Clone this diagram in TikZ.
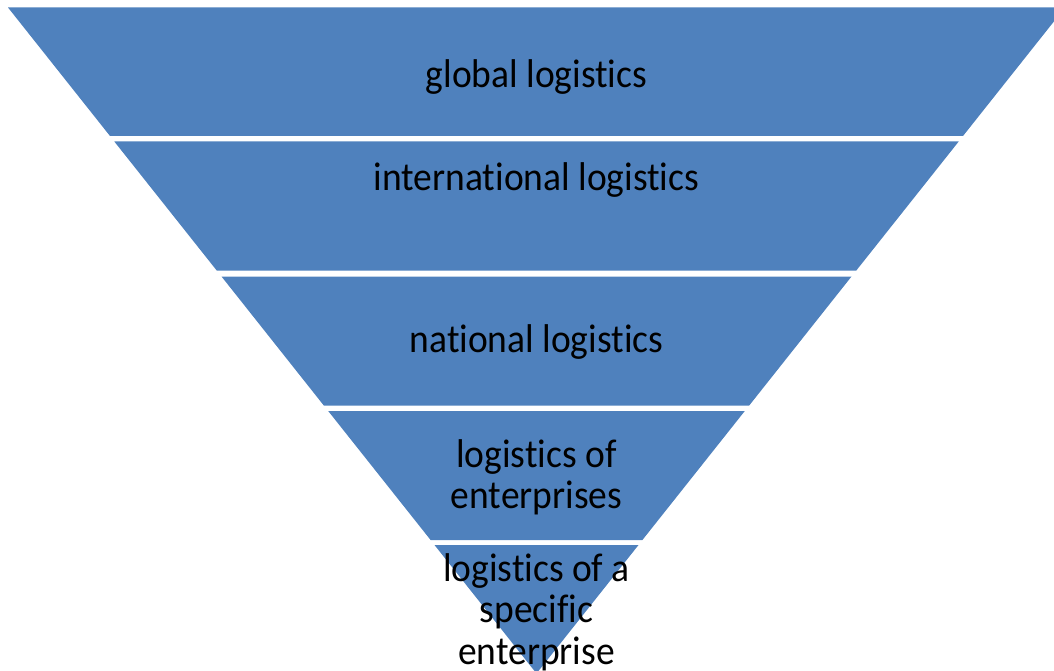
\documentclass[tikz,border=0pt]{standalone}
\usepackage{fontspec}
\setmainfont{Carlito}[Ligatures={NoCommon,NoContextual}]
\definecolor{bandblue}{HTML}{4F81BD}
\newcommand{\tallt}[1]{\scalebox{1}[1.07]{#1}}
\begin{document}
\begin{tikzpicture}[x=1pt,y=-1pt,
  band/.style={fill=bandblue, draw=none},
  lbl/.style={inner sep=0pt, anchor=base, text=black, font=\fontsize{37.5}{38.8}\selectfont}]
\useasboundingbox (0,0) rectangle (1054,671);
\clip (0,0) rectangle (1054,671);
% bands of the inverted pyramid
\path[band] (8,7.5) -- (1065,7.5) -- (963,136) -- (110,136) -- cycle;
\path[band] (114.3,141.5) -- (958.7,141.5) -- (856.3,270.5) -- (216.7,270.5) -- cycle;
\path[band] (221.5,276.5) -- (851.5,276.5) -- (749.2,405.5) -- (323.8,405.5) -- cycle;
\path[band] (328.2,411) -- (744.8,411) -- (642.4,540) -- (430.6,540) -- cycle;
\path[band] (434.5,545) -- (638.5,545) -- (536.5,673.5) -- cycle;
% labels
\node[lbl] (t1) at (536.5,88) {\tallt{global logistics}};
\node[lbl] (t2) at (536.5,190.5) {\tallt{international logistics}};
\node[lbl] (t3) at (536.5,352) {\tallt{national logistics}};
\node[lbl] (t4) at (536.5,467) {\tallt{\begin{tabular}[t]{@{}c@{}}logistics of\\enterprises\end{tabular}}};
\node[lbl] (t5) at (536.5,581) {\tallt{\begin{tabular}[t]{@{}c@{}}logistics of a\\specific\\enterprise\end{tabular}}};
\end{tikzpicture}
\end{document}
